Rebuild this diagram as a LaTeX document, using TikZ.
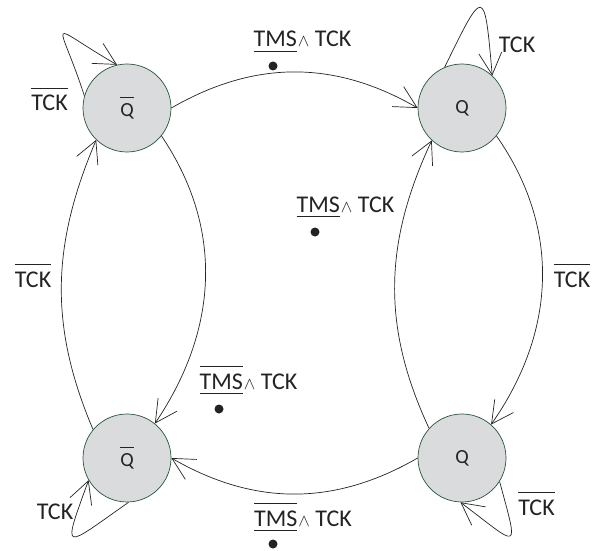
\documentclass[tikz,border=0pt]{standalone}
\usepackage{fontspec}
\setmainfont{Carlito}
\usetikzlibrary{arrows.meta}

\definecolor{inkgray}{RGB}{35,35,35}
\definecolor{statefill}{RGB}{218,219,221}
\definecolor{stateedge}{RGB}{40,85,60}

% bars drawn over / under a word
\newsavebox\ovlbox
\newsavebox\unlbox
\newcommand{\ovl}[2][7pt]{\sbox\ovlbox{#2}\rlap{\rule[\dimexpr\ht\ovlbox+#1\relax]{\wd\ovlbox}{0.8pt}}\usebox\ovlbox}
\newcommand{\unl}[1]{\sbox\unlbox{#1}\rlap{\rule[-4.8pt]{\wd\unlbox}{0.8pt}}\usebox\unlbox}
\newcommand{\andop}{\kern1pt{\fontsize{18}{18}\selectfont$\wedge$}}

\begin{document}
\begin{tikzpicture}[x=1pt,y=1pt,
  state/.style={circle, draw=stateedge, fill=statefill, line width=0.7pt,
    minimum size=88pt, inner sep=0pt, text=inkgray,
    font=\fontsize{20}{20}\selectfont},
  lbl/.style={anchor=base, inner sep=0pt, text=inkgray,
    font=\fontsize{24}{24}\selectfont},
  edge/.style={draw=inkgray, line width=0.7pt,
    -{Straight Barb[length=22pt,width=23pt]}},
  dotmark/.style={circle, fill=inkgray, minimum size=9pt, inner sep=0pt}]

\useasboundingbox (0,0) rectangle (602,550);

% states
\node[state] (TL) at (127,442) {\ovl[6pt]{Q}};
\node[state] (TR) at (462,442) {Q};
\node[state] (BL) at (127,92)  {\ovl[6pt]{Q}};
\node[state] (BR) at (462,92)  {Q};

% transitions between states
\draw[edge] (TL.0)   to[out=30,in=150]  (TR.180);
\draw[edge] (TR.-39) to[out=-55,in=55]  (BR.49);
\draw[edge] (BR.180) to[out=210,in=-30] (BL.0);
\draw[edge] (BL.140) to[out=113,in=247] (TL.226);
\draw[edge] (TL.-39) to[out=-56,in=56]  (BL.51);
\draw[edge] (BR.138) to[out=115,in=245] (TR.227);

% self loops
\draw[edge] (TL.164) .. controls +(108:85) and +(150:85) .. (TL.103);
\draw[edge] (TR.113) .. controls +(64:90) and +(95:90) .. (TR.47);
\draw[edge] (BL.-88) .. controls +(215:80) and +(250:80) .. (BL.210);
\draw[edge] (BR.-32) .. controls +(-75:75) and +(-37:75) .. (BR.-92);

% loop and side labels
\node[lbl] (kTL) at (49.5,439) {\ovl{TCK}};
\node[lbl] (kTR) at (517,497)  {TCK};
\node[lbl] (kL)  at (33,263)   {\ovl{TCK}};
\node[lbl] (kR)  at (572,263)  {\ovl{TCK}};
\node[lbl] (kBL) at (55,31)    {TCK};
\node[lbl] (kBR) at (536.5,35) {\ovl{TCK}};

% condition labels with their dots
\node[lbl] (cTop) at (302.5,503) {\unl{TMS}\andop\ TCK};
\node[dotmark] (dTop) at (273,484) {};
\node[lbl] (cMid) at (345.5,338) {\unl{TMS}\andop\ TCK};
\node[dotmark] (dMid) at (315,318) {};
\node[lbl] (cLow) at (248.5,161) {\unl{\ovl{TMS}}\andop\ TCK};
\node[dotmark] (dLow) at (219,141) {};
\node[lbl] (cBot) at (303,24) {\unl{\ovl{TMS}}\andop\ TCK};
\node[dotmark] (dBot) at (273,6) {};
\end{tikzpicture}
\end{document}
